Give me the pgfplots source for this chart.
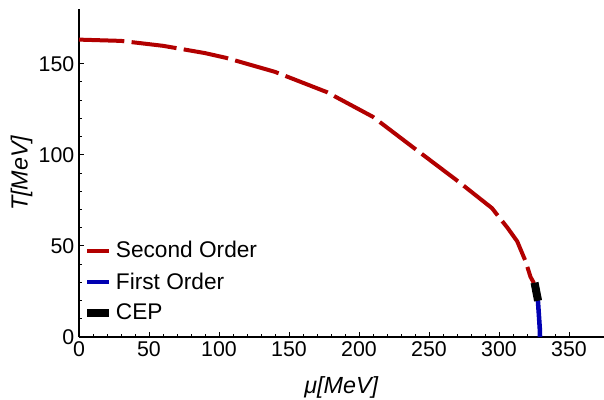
\documentclass[border=0pt]{standalone}
\usepackage{fontspec}
\setmainfont{Liberation Sans}
\setsansfont{Liberation Sans}
\usepackage{pgfplots}
\pgfplotsset{compat=1.18}
\definecolor{dred}{RGB}{178,0,0}
\definecolor{dblue}{RGB}{0,0,178}
\begin{document}
\begin{tikzpicture}
\path[use as bounding box] (-59.25pt,-47.25pt) rectangle (393.75pt,252.75pt);
\begin{axis}[
  scale only axis,
  width=393.75pt, height=246pt,
  xmin=0, xmax=375, ymin=0, ymax=180,
  axis x line*=bottom, axis y line*=left,
  axis line style={line width=0.8pt},
  tick align=inside,
  major tick length=4pt, minor tick length=2.2pt,
  tick style={black, line width=0.6pt},
  xtick={0,50,...,350}, ytick={0,50,100,150},
  minor x tick num=4, minor y tick num=4,
  /pgf/number format/assume math mode=true,
  ticklabel style={font=\fontsize{16}{19}\selectfont},
  xlabel={\textit{μ[MeV]}}, ylabel={\textit{T[MeV]}},
  label style={font=\fontsize{17.5}{20}\selectfont},
  x label style={at={(axis description cs:0.5,0)}, anchor=center, yshift=-37.5pt},
  y label style={at={(axis description cs:0,0.5)}, anchor=center, yshift=43pt},
  clip=false,
  legend cell align=left,
  legend style={draw=none, fill=none, font=\fontsize{17}{20}\selectfont,
    at={(axis description cs:0.0,0.03)}, anchor=south west, row sep=5.5pt},
  legend image code/.code={\draw[#1, solid] (0cm,0cm) -- (0.58cm,0cm);},
]
\addplot[dred, line width=3pt, dash pattern=on 34pt off 5.5pt] coordinates {
(0,163.2) (30,162.5) (60,159.8) (90,155.8) (105,153.2) (140,145.5)
(177,134.4) (210,120.8) (241,102.7) (271,85.3) (295,70.7) (300,65.8)
(306,60) (313,52.5) (319,41.5) (322.5,33) (325,29.5)
};
\addlegendentry{Second Order}
\addplot[dblue, line width=3.4pt] coordinates {
(327.7,21) (328.5,12) (329.1,5) (329.3,0)
};
\addlegendentry{First Order}
\addplot[black, line width=6pt] coordinates {
(325.4,29.8) (327.9,19.9)
};
\addlegendentry{CEP}
\end{axis}
\end{tikzpicture}
\end{document}
